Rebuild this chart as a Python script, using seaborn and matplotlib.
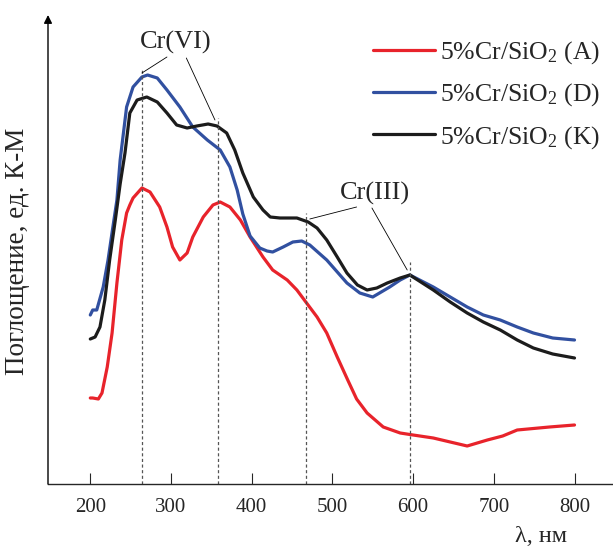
import numpy as np
import matplotlib
matplotlib.use("Agg")
import matplotlib.pyplot as plt
import seaborn as sns
import pandas as pd

# values (y in arbitrary K-M units)
wl_a = [200, 203, 210, 214.5, 221, 227, 233, 239, 245, 249, 253, 264, 274, 286, 295, 302, 311, 320,
        327, 340, 352, 361, 373, 386, 398, 414, 426, 444, 456, 468, 481, 493, 506, 519, 530, 543,
        563, 584, 600, 625, 646, 667, 692, 711, 729, 769, 800]
km_a = [0.86, 0.86, 0.85, 0.91, 1.17, 1.51, 2.01, 2.44, 2.71, 2.79, 2.86, 2.96, 2.92, 2.77, 2.57, 2.37, 2.24, 2.31,
        2.47, 2.67, 2.79, 2.82, 2.77, 2.64, 2.47, 2.27, 2.14, 2.04, 1.94, 1.81, 1.67, 1.51, 1.27, 1.04, 0.85, 0.71,
        0.57, 0.51, 0.49, 0.46, 0.42, 0.38, 0.44, 0.48, 0.54, 0.57, 0.59]

wl_d = [200, 203, 208, 216, 222, 228, 233, 237, 245, 253, 264, 271, 283, 295, 311, 327, 345, 361,
        373, 382, 389, 398, 410, 419, 426, 439, 451, 462, 472, 493, 518, 534, 550, 571, 584, 596,
        625, 646, 667, 687, 708, 729, 749, 773, 800]
km_d = [1.69, 1.74, 1.74, 1.97, 2.24, 2.57, 2.84, 3.24, 3.77, 3.97, 4.07, 4.09, 4.06, 3.94, 3.77, 3.57, 3.44, 3.34,
        3.17, 2.94, 2.70, 2.48, 2.36, 2.33, 2.32, 2.37, 2.42, 2.43, 2.39, 2.24, 2.01, 1.91, 1.87, 1.97, 2.04, 2.09,
        1.97, 1.87, 1.77, 1.69, 1.64, 1.57, 1.51, 1.46, 1.44]

wl_k = [200, 206, 212, 218, 224, 231, 237, 243, 249, 258, 270, 283, 295, 307, 320, 332, 346, 357,
        369, 379, 389, 402, 414, 423, 435, 456, 470, 481, 493, 506, 518, 531, 543, 555, 568, 584,
        596, 625, 646, 667, 687, 708, 729, 749, 773, 800]
km_k = [1.45, 1.47, 1.57, 1.84, 2.24, 2.64, 3.00, 3.31, 3.71, 3.84, 3.87, 3.82, 3.71, 3.59, 3.56, 3.58, 3.60, 3.58,
        3.51, 3.34, 3.11, 2.87, 2.74, 2.67, 2.66, 2.66, 2.62, 2.56, 2.44, 2.27, 2.11, 1.99, 1.94, 1.96, 2.01, 2.06,
        2.09, 1.94, 1.82, 1.71, 1.62, 1.54, 1.44, 1.36, 1.30, 1.26]

labels = ["5%Cr/SiO$_2$ (A)", "5%Cr/SiO$_2$ (D)", "5%Cr/SiO$_2$ (K)"]
colors = ["#e8232b", "#3150a0", "#1c1c1c"]

# band positions and how high the dotted markers reach
bands = [264, 358, 467, 596]
band_tops = [4.14, 3.66, 2.71, 2.22]

df = pd.concat([
    pd.DataFrame({"wl": wl_a, "km": km_a, "sample": labels[0]}),
    pd.DataFrame({"wl": wl_d, "km": km_d, "sample": labels[1]}),
    pd.DataFrame({"wl": wl_k, "km": km_k, "sample": labels[2]}),
])

sns.set_style("ticks")
plt.rcParams["font.family"] = ["Liberation Serif", "DejaVu Serif"]
plt.rcParams["mathtext.fontset"] = "custom"
plt.rcParams["mathtext.rm"] = "Liberation Serif"
plt.rcParams["mathtext.default"] = "regular"

fig = plt.figure(figsize=(6.13, 5.49), dpi=100)
ax = fig.add_axes([48 / 613, 65 / 549, 1 - 48 / 613, 469 / 549])

sns.lineplot(data=df, x="wl", y="km", hue="sample", palette=colors,
             estimator=None, linewidth=2.3, ax=ax)

ax.vlines(bands, 0, band_tops, colors="#555555", linestyles=(0, (2.5, 2)), linewidth=0.9)

# annotation leaders
ax.plot([295, 264], [4.27, 4.11], color="k", lw=0.6)
ax.plot([319, 354.5], [4.26, 3.64], color="k", lw=0.6)
ax.text(306, 4.42, "Cr(VI)", ha="center", va="center", fontsize=19)
ax.plot([530, 472], [2.77, 2.65], color="k", lw=0.6)
ax.plot([549, 592.7], [2.76, 2.14], color="k", lw=0.6)
ax.text(553, 2.91, "Cr(III)", ha="center", va="center", fontsize=19)

ax.set_xlim(147.6, 847.7)
ax.set_ylim(0, 4.69)
ax.set_xticks([200, 300, 400, 500, 600, 700, 800])
ax.set_yticks([])
ax.tick_params(axis="x", direction="in", length=8, width=0.8, labelsize=15, pad=10)
for s in ["top", "right", "left"]:
    ax.spines[s].set_visible(False)
ax.spines["bottom"].set_linewidth(1.0)
ax.annotate("", xy=(0, 1.0), xytext=(0, 0), xycoords="axes fraction",
            arrowprops=dict(arrowstyle="-|>", color="k", lw=1.0,
                            mutation_scale=12, shrinkA=0, shrinkB=0))

ax.set_xlabel("λ, нм", fontsize=17.5)
ax.xaxis.set_label_coords(0.873, -0.09)
ax.set_ylabel("Поглощение, ед. К-М", fontsize=19.5)
ax.yaxis.set_label_coords(-0.032, 0.497)

h, l = ax.get_legend_handles_labels()
ax.legend(h, l, loc="upper right", bbox_to_anchor=(0.995, 0.97), borderaxespad=0,
          frameon=False, fontsize=18.5, handlelength=2.4, labelspacing=0.6,
          handletextpad=0.2)

fig.savefig("out.png", dpi=100)
